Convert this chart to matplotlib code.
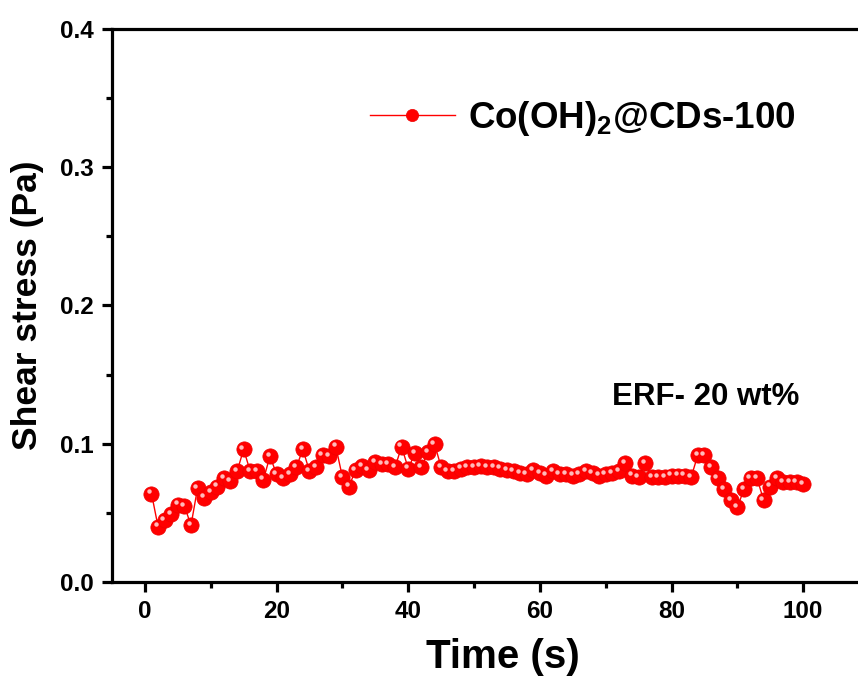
import matplotlib
matplotlib.use("Agg")
import matplotlib.pyplot as plt
from matplotlib.ticker import MultipleLocator
from matplotlib.transforms import offset_copy
import numpy as np

plt.rcParams['font.family'] = ['Liberation Sans', 'DejaVu Sans']
plt.rcParams['font.weight'] = 'bold'
plt.rcParams['mathtext.fontset'] = 'custom'
plt.rcParams['mathtext.rm'] = 'Liberation Sans:bold'
plt.rcParams['mathtext.bf'] = 'Liberation Sans:bold'
plt.rcParams['mathtext.default'] = 'bf'

# Данные: время (с) и напряжение сдвига (Па)
time_s = np.arange(1, 101)
shear = [
    0.064, 0.040, 0.045, 0.049, 0.056, 0.055, 0.041, 0.068, 0.061, 0.065,
    0.069, 0.075, 0.073, 0.080, 0.096, 0.080, 0.080, 0.074, 0.091, 0.078,
    0.075, 0.078, 0.083, 0.096, 0.080, 0.083, 0.092, 0.091, 0.098, 0.076,
    0.069, 0.081, 0.084, 0.081, 0.087, 0.085, 0.085, 0.083, 0.098, 0.082,
    0.093, 0.083, 0.094, 0.100, 0.083, 0.080, 0.080, 0.082, 0.083, 0.083,
    0.084, 0.083, 0.083, 0.082, 0.081, 0.080, 0.079, 0.078, 0.081, 0.079,
    0.077, 0.080, 0.078, 0.078, 0.077, 0.078, 0.080, 0.079, 0.077, 0.078,
    0.079, 0.080, 0.086, 0.077, 0.076, 0.086, 0.076, 0.076, 0.076, 0.077,
    0.077, 0.077, 0.076, 0.092, 0.092, 0.083, 0.075, 0.067, 0.059, 0.054,
    0.067, 0.075, 0.075, 0.059, 0.069, 0.075, 0.072, 0.072, 0.072, 0.071,
]
series_label = r'Co(OH)$_2$@CDs-100'
note = 'ERF- 20 wt%'

fig = plt.figure(figsize=(8.58, 6.8), dpi=100)
ax = fig.add_axes([112/858, 98/680, 757/858, 553/680])

ax.plot(time_s, shear, '-', color='red', lw=1.0, marker='o', ms=11,
        mfc='#ff0000', mec='#ee0000', mew=0.5, label=series_label, zorder=3)
# блики на шариках
hl = offset_copy(ax.transData, fig=fig, x=-1.6, y=1.6, units='points')
ax.plot(time_s, shear, 'o', color='#ffd0d0', ms=3.2, mew=0, alpha=0.9,
        transform=hl, zorder=4)

ax.set_xlim(-5, 110)
ax.set_ylim(0, 0.4)
ax.xaxis.set_major_locator(MultipleLocator(20))
ax.xaxis.set_minor_locator(MultipleLocator(10))
ax.yaxis.set_major_locator(MultipleLocator(0.1))
ax.yaxis.set_minor_locator(MultipleLocator(0.05))
ax.yaxis.set_major_formatter(plt.FormatStrFormatter('%.1f'))

for s in ax.spines.values():
    s.set_linewidth(2.3)
ax.tick_params(which='major', direction='out', length=7, width=2.3,
               labelsize=17.5, pad=6)
ax.tick_params(which='minor', direction='out', length=4, width=2.3)

ax.set_xlabel('Time (s)', fontsize=29, fontweight='bold')
ax.xaxis.set_label_coords(0.516, -0.102)
ax.set_ylabel('Shear stress (Pa)', fontsize=25.5, fontweight='bold', labelpad=12)

fig.text(612/858, 1 - 405/680, note, fontsize=22.5, fontweight='bold')

ax.legend(loc='center left', bbox_to_anchor=(370/858, 1 - 118/680),
          bbox_transform=fig.transFigure, frameon=False, fontsize=26.5,
          handlelength=2.3, handletextpad=0.35, borderpad=0, borderaxespad=0,
          markerscale=0.8)

fig.savefig('out.png', dpi=100)
